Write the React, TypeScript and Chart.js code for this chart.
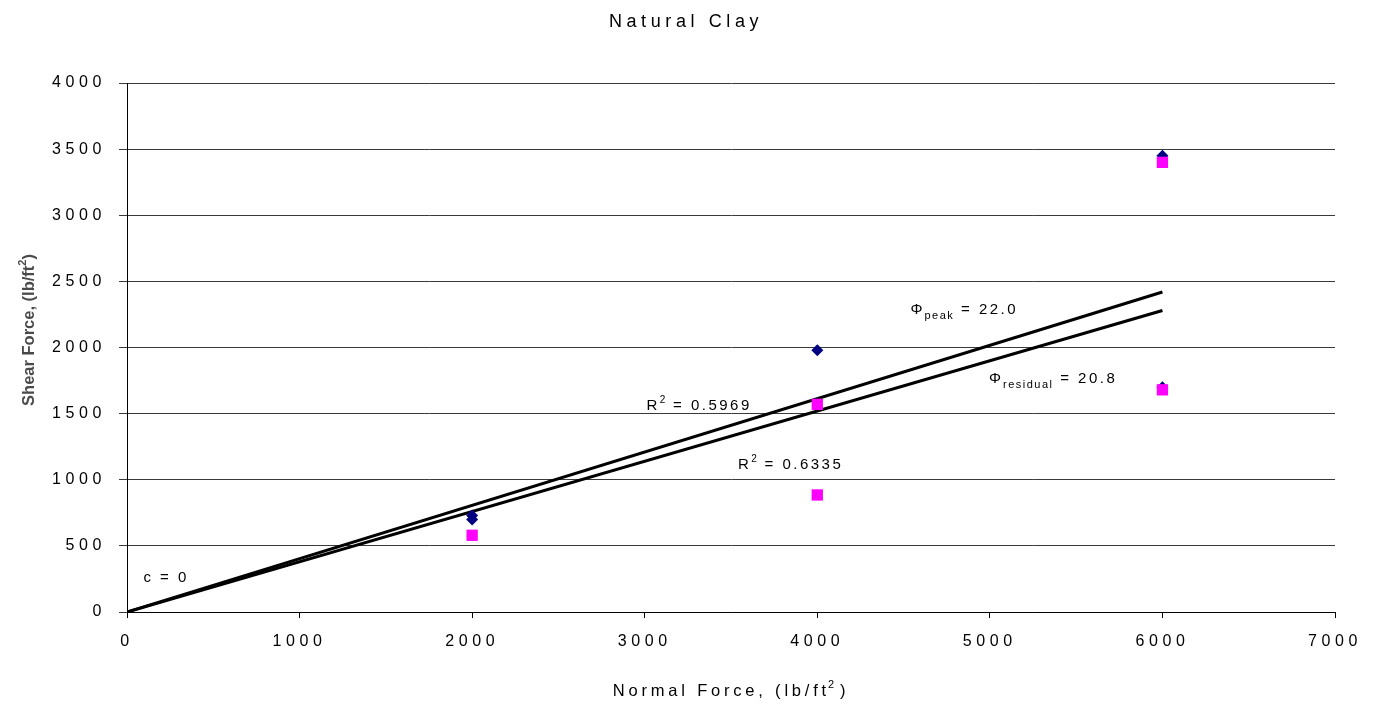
import React, { useEffect, useRef } from "react";
import { Chart, registerables } from "chart.js";

Chart.register(...registerables);

const chartTitle = "Natural Clay";
const xTitle = "Normal Force, (lb/ft";
const yTitle = "Shear Force, (lb/ft";

const peakNormal = [2000, 2000, 4000, 6000, 6000];
const peakShear = [700, 730, 1980, 3450, 1700];
const residualNormal = [2000, 4000, 4000, 6000, 6000];
const residualShear = [580, 1570, 885, 3400, 1680];

const fitNormal = [0, 6000];
const peakFit = [0, 2420];
const residualFit = [0, 2280];

const FONT = "'Liberation Sans', Arial, sans-serif";

export default function App() {
  const ref = useRef<HTMLCanvasElement>(null);

  useEffect(() => {
    document.body.style.margin = "0";
    const canvas = ref.current!;
    const toPts = (xs: number[], ys: number[]) => xs.map((x, i) => ({ x, y: ys[i] }));

    const textPlugin = {
      id: "texts",
      beforeDraw(chart: any) {
        chart.ctx.letterSpacing = "4.6px";
      },
      afterDraw(chart: any) {
        const ctx = chart.ctx as CanvasRenderingContext2D;
        const xs = chart.scales.x;
        const ys = chart.scales.y;
        const px = (v: number) => xs.getPixelForValue(v);
        const py = (v: number) => ys.getPixelForValue(v);
        ctx.save();
        ctx.fillStyle = "#000";
        ctx.textBaseline = "alphabetic";
        ctx.textAlign = "left";

        // Title
        ctx.font = `18px ${FONT}`;
        (ctx as any).letterSpacing = "4.6px";
        let w = ctx.measureText(chartTitle).width;
        ctx.fillText(chartTitle, 686 - w / 2, 27);

        // X axis title with superscript
        ctx.font = `16.5px ${FONT}`;
        (ctx as any).letterSpacing = "3.8px";
        const xw = ctx.measureText(xTitle).width;
        ctx.font = `11px ${FONT}`;
        const sw = ctx.measureText("2").width;
        ctx.font = `16.5px ${FONT}`;
        const cw = ctx.measureText(")").width;
        let sx = (xs.left + xs.right) / 2 - (xw + sw + cw) / 2;
        ctx.fillText(xTitle, sx, 696);
        ctx.font = `11px ${FONT}`;
        ctx.fillText("2", sx + xw - 2, 688);
        ctx.font = `16.5px ${FONT}`;
        ctx.fillText(")", sx + xw + sw, 696);

        // Y axis title (rotated)
        ctx.save();
        ctx.translate(34, 330);
        ctx.rotate(-Math.PI / 2);
        ctx.fillStyle = "#4a4a4a";
        (ctx as any).letterSpacing = "0px";
        ctx.font = `bold 16.5px ${FONT}`;
        const yw = ctx.measureText(yTitle).width;
        ctx.font = `bold 11px ${FONT}`;
        const ysw = ctx.measureText("2").width;
        ctx.font = `bold 16.5px ${FONT}`;
        const ycw = ctx.measureText(")").width;
        const total = yw + ysw + ycw;
        ctx.fillText(yTitle, -total / 2, 0);
        ctx.font = `bold 11px ${FONT}`;
        ctx.fillText("2", -total / 2 + yw, -8);
        ctx.font = `bold 16.5px ${FONT}`;
        ctx.fillText(")", -total / 2 + yw + ysw, 0);
        ctx.restore();

        // Annotations
        const sub = (
          x: number,
          y: number,
          parts: { t: string; size: number; dy: number; ls: number }[]
        ) => {
          let cx = x;
          for (const p of parts) {
            ctx.font = `${p.size}px ${FONT}`;
            (ctx as any).letterSpacing = p.ls + "px";
            ctx.fillText(p.t, cx, y + p.dy);
            cx += ctx.measureText(p.t).width;
          }
        };
        sub(px(4540), py(2250), [
          { t: "Φ", size: 15, dy: 0, ls: 2 },
          { t: "peak", size: 11, dy: 5, ls: 1.5 },
          { t: " = 22.0", size: 15, dy: 0, ls: 2.5 },
        ]);
        sub(px(4995), py(1730), [
          { t: "Φ", size: 15, dy: 0, ls: 2 },
          { t: "residual", size: 11, dy: 5, ls: 1.5 },
          { t: " = 20.8", size: 15, dy: 0, ls: 2.5 },
        ]);
        sub(px(3010), py(1530), [
          { t: "R", size: 15, dy: 0, ls: 2.5 },
          { t: "2", size: 10, dy: -7, ls: 1 },
          { t: " = 0.5969", size: 15, dy: 0, ls: 2.5 },
        ]);
        sub(px(3540), py(1085), [
          { t: "R", size: 15, dy: 0, ls: 2.5 },
          { t: "2", size: 10, dy: -7, ls: 1 },
          { t: " = 0.6335", size: 15, dy: 0, ls: 2.5 },
        ]);
        sub(px(95), py(230), [{ t: "c = 0", size: 15, dy: 0, ls: 2.5 }]);

        ctx.restore();
        (ctx as any).letterSpacing = "0px";
      },
    };

    const chart = new Chart(canvas, {
      type: "scatter",
      data: {
        datasets: [
          {
            label: "Residual",
            data: toPts(residualNormal, residualShear),
            backgroundColor: "#ff00ff",
            borderColor: "#ff00ff",
            pointStyle: "rect",
            pointRadius: 8,
            borderWidth: 0,
            order: 0,
          },
          {
            label: "Peak",
            data: toPts(peakNormal, peakShear),
            backgroundColor: "#000080",
            borderColor: "#000080",
            pointStyle: "rectRot",
            pointRadius: 6,
            borderWidth: 0,
            order: 1,
          },
          {
            type: "line",
            label: "Peak fit",
            data: toPts(fitNormal, peakFit),
            borderColor: "#000",
            borderWidth: 3,
            pointRadius: 0,
            showLine: true,
            fill: false,
            order: 2,
          } as any,
          {
            type: "line",
            label: "Residual fit",
            data: toPts(fitNormal, residualFit),
            borderColor: "#000",
            borderWidth: 3,
            pointRadius: 0,
            showLine: true,
            fill: false,
            order: 3,
          } as any,
        ],
      },
      options: {
        responsive: false,
        animation: false,
        layout: { padding: { left: 0, right: 46, top: 83, bottom: 0 } },
        plugins: {
          legend: { display: false },
          title: { display: false },
          tooltip: { enabled: false },
        },
        scales: {
          x: {
            type: "linear",
            min: 0,
            max: 7000,
            afterFit(scale: any) {
              scale.height = 93;
            },
            ticks: {
              stepSize: 1000,
              color: "#000",
              font: { family: FONT, size: 16 },
              padding: 14,
              maxRotation: 0,
              callback: (v: any) => String(v),
            },
            grid: {
              drawOnChartArea: false,
              drawTicks: true,
              tickLength: 6,
              color: "#000",
            },
            border: { color: "#000", width: 1 },
          },
          y: {
            type: "linear",
            min: 0,
            max: 4000,
            afterFit(scale: any) {
              scale.width = 127;
            },
            ticks: {
              stepSize: 500,
              color: "#000",
              font: { family: FONT, size: 16 },
              padding: 13,
              callback: (v: any) => String(v),
            },
            grid: {
              color: "#3a3a3a",
              lineWidth: 1,
              tickLength: 8,
            },
            border: { color: "#000", width: 1 },
          },
        },
      },
      plugins: [textPlugin],
    });
    return () => chart.destroy();
  }, []);

  return <canvas ref={ref} width={1381} height={705} style={{ display: "block" }} />;
}
